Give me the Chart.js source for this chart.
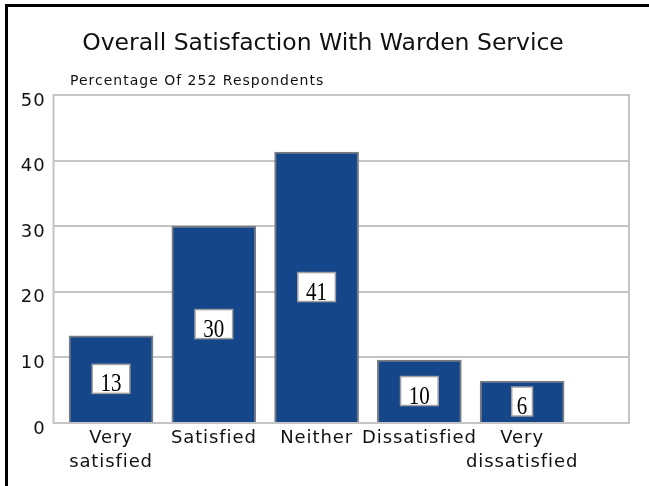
<!DOCTYPE html>
<html>
<head>
<meta charset="utf-8">
<script src="https://cdn.jsdelivr.net/npm/chart.js@4/dist/chart.umd.min.js"></script>
<style>
  body { margin: 0; background: #fff; }
  #wrap { width: 649px; height: 486px; position: relative; }
</style>
</head>
<body>
<div id="wrap"><canvas id="chart"></canvas></div>
<script>
const categories = [["Very", "satisfied"], "Satisfied", "Neither", "Dissatisfied", ["Very", "dissatisfied"]];
const percentages = [13.3, 30.0, 41.3, 9.6, 6.4];
const yTicks = [0, 10, 20, 30, 40, 50];
const titleText = "Overall Satisfaction With Warden Service";
const subtitleText = "Percentage Of 252 Respondents";

const gridColor = "#c4c4c4";

// frame, titles and plot border
const decor = {
    id: "decor",
    beforeDraw(chart) {
        const ctx = chart.ctx;
        ctx.save();
        ctx.fillStyle = "#fff";
        ctx.fillRect(0, 0, chart.width, chart.height);
        ctx.fillStyle = "#000";
        ctx.fillRect(5, 4, chart.width - 5, 3);
        ctx.fillRect(5, 4, 3, chart.height - 4);
        ctx.fillStyle = "#111";
        ctx.textBaseline = "middle";
        ctx.textAlign = "center";
        ctx.font = "23.5px 'DejaVu Sans'";
        ctx.fillText(titleText, 323, 44);
        ctx.textAlign = "left";
        ctx.font = "14px 'DejaVu Sans'";
        ctx.letterSpacing = "1px";
        ctx.fillText(subtitleText, 70, 81);
        ctx.restore();
        // axis labels in the reference are spaced a bit wider
        ctx.letterSpacing = "0.9px";
    },
    afterDraw(chart) {
        chart.ctx.letterSpacing = "0px";
    },
    beforeDatasetsDraw(chart) {
        const a = chart.chartArea;
        const ctx = chart.ctx;
        ctx.save();
        ctx.strokeStyle = gridColor;
        ctx.lineWidth = 2;
        ctx.strokeRect(a.left, a.top, a.right - a.left, a.bottom - a.top);
        ctx.restore();
    },
    afterDatasetsDraw(chart) {
        const ctx = chart.ctx;
        const meta = chart.getDatasetMeta(0);
        ctx.save();
        ctx.letterSpacing = "0px";
        ctx.font = "21px 'Liberation Serif'";
        ctx.textAlign = "center";
        ctx.textBaseline = "alphabetic";
        meta.data.forEach((bar, i) => {
            const txt = String(Math.round(percentages[i]));
            const tw = ctx.measureText(txt).width;
            const w = tw * 1.6 + 4;
            const h = 29;
            const cy = (bar.y + bar.base) / 2;
            ctx.fillStyle = "#fff";
            ctx.fillRect(bar.x - w / 2, cy - h / 2, w, h);
            ctx.strokeStyle = "#a0a0a0";
            ctx.lineWidth = 1.5;
            ctx.strokeRect(bar.x - w / 2, cy - h / 2, w, h);
            ctx.save();
            ctx.translate(bar.x, cy + 12.5);
            ctx.scale(1, 1.22);
            ctx.fillStyle = "#000";
            ctx.fillText(txt, 0, 0);
            ctx.restore();
        });
        ctx.restore();
    }
};

new Chart("chart", {
    type: "bar",
    data: {
        datasets: [{
            data: percentages.map((v, i) => ({ x: i, y: v })),
            backgroundColor: "#15468a",
            borderColor: "#767c86",
            borderWidth: 2,
            barThickness: 84
        }]
    },
    options: {
        responsive: true,
        maintainAspectRatio: false,
        animation: false,
        layout: { padding: { top: 95, right: 20, left: 0, bottom: 0 } },
        plugins: { legend: { display: false }, tooltip: { enabled: false } },
        scales: {
            x: {
                type: "linear",
                offset: false,
                min: -0.56,
                max: 5.04,
                afterBuildTicks: s => { s.ticks = categories.map((c, i) => ({ value: i })); },
                afterFit: s => { s.height = 63; },
                grid: { display: false },
                border: { display: false },
                ticks: {
                    autoSkip: false,
                    maxRotation: 0,
                    padding: -5,
                    color: "#111",
                    font: { family: "DejaVu Sans", size: 18, lineHeight: 1.36 },
                    callback: v => categories[v]
                }
            },
            y: {
                min: 0,
                max: 50,
                afterBuildTicks: s => { s.ticks = yTicks.map(v => ({ value: v })); },
                afterFit: s => { s.width = 53.5; },
                grid: { color: gridColor, lineWidth: 2, drawTicks: false },
                border: { display: false },
                ticks: {
                    padding: 8,
                    labelOffset: 6,
                    color: "#111",
                    font: { family: "DejaVu Sans", size: 18 }
                }
            }
        }
    },
    plugins: [decor]
});
</script>
</body>
</html>
